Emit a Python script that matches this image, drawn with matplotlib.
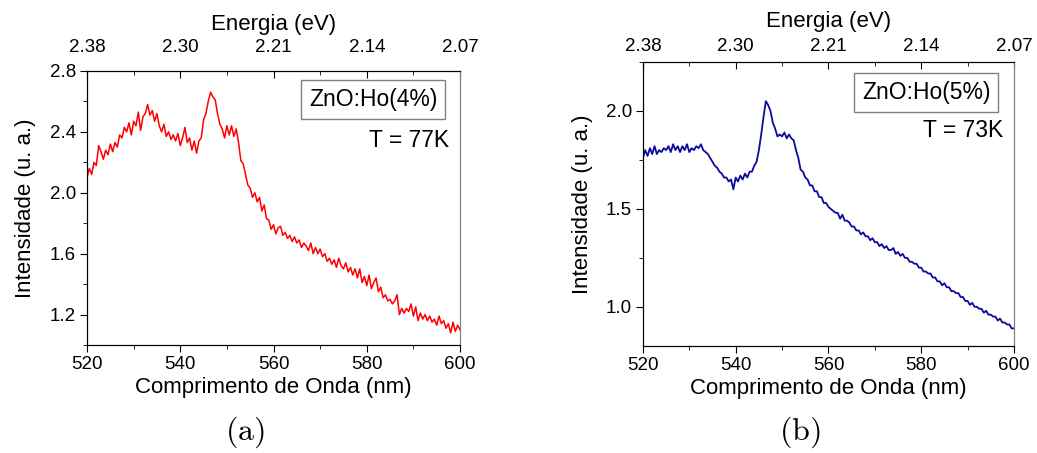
import numpy as np
import matplotlib
matplotlib.use("Agg")
import matplotlib.pyplot as plt
from matplotlib.ticker import MultipleLocator

plt.rcParams['font.family'] = ['Liberation Sans', 'DejaVu Sans']
plt.rcParams['mathtext.fontset'] = 'cm'

# wavelength grid (nm), 0.5 nm step
wl = np.arange(520, 600.25, 0.5)

# ZnO:Ho(4%), T = 77K
int_a = [
    2.10, 2.16, 2.12, 2.20, 2.18, 2.31, 2.27, 2.22, 2.28, 2.25,
    2.32, 2.27, 2.33, 2.30, 2.38, 2.36, 2.43, 2.40, 2.46, 2.38,
    2.47, 2.44, 2.53, 2.41, 2.50, 2.52, 2.58, 2.51, 2.54, 2.47,
    2.52, 2.44, 2.40, 2.45, 2.37, 2.40, 2.35, 2.38, 2.34, 2.39,
    2.31, 2.36, 2.43, 2.33, 2.36, 2.28, 2.34, 2.26, 2.34, 2.36,
    2.48, 2.52, 2.60, 2.66, 2.63, 2.61, 2.52, 2.45, 2.42, 2.36,
    2.44, 2.38, 2.44, 2.37, 2.42, 2.33, 2.21, 2.19, 2.12, 2.05,
    2.03, 1.97, 2.00, 1.94, 1.97, 1.88, 1.92, 1.83, 1.82, 1.76,
    1.79, 1.73, 1.77, 1.78, 1.72, 1.74, 1.70, 1.72, 1.68, 1.71,
    1.67, 1.69, 1.64, 1.67, 1.65, 1.62, 1.67, 1.60, 1.64, 1.60,
    1.63, 1.58, 1.60, 1.55, 1.57, 1.53, 1.56, 1.51, 1.57, 1.52,
    1.50, 1.54, 1.48, 1.51, 1.46, 1.50, 1.44, 1.50, 1.41, 1.45,
    1.39, 1.46, 1.37, 1.41, 1.44, 1.35, 1.38, 1.31, 1.33, 1.29,
    1.30, 1.27, 1.29, 1.33, 1.20, 1.24, 1.21, 1.24, 1.22, 1.27,
    1.19, 1.25, 1.16, 1.21, 1.17, 1.20, 1.16, 1.19, 1.15, 1.17,
    1.13, 1.19, 1.14, 1.16, 1.11, 1.14, 1.08, 1.15, 1.09, 1.13,
    1.10,
]

# ZnO:Ho(5%), T = 73K
int_b = [
    1.76, 1.80, 1.77, 1.81, 1.78, 1.82, 1.78, 1.80, 1.79, 1.81,
    1.80, 1.82, 1.79, 1.83, 1.80, 1.82, 1.79, 1.82, 1.80, 1.83,
    1.79, 1.81, 1.80, 1.82, 1.81, 1.83, 1.80, 1.79, 1.78, 1.76,
    1.74, 1.72, 1.71, 1.69, 1.68, 1.66, 1.66, 1.64, 1.65, 1.60,
    1.66, 1.64, 1.67, 1.65, 1.68, 1.66, 1.69, 1.69, 1.72, 1.74,
    1.80, 1.88, 1.97, 2.05, 2.03, 2.00, 1.94, 1.91, 1.87, 1.88,
    1.87, 1.89, 1.86, 1.88, 1.86, 1.85, 1.80, 1.76, 1.70, 1.69,
    1.66, 1.65, 1.62, 1.62, 1.59, 1.59, 1.56, 1.56, 1.53, 1.53,
    1.51, 1.50, 1.49, 1.48, 1.48, 1.45, 1.47, 1.44, 1.44, 1.43,
    1.41, 1.41, 1.39, 1.39, 1.37, 1.38, 1.36, 1.36, 1.34, 1.35,
    1.33, 1.33, 1.31, 1.32, 1.30, 1.31, 1.29, 1.29, 1.30, 1.27,
    1.28, 1.26, 1.27, 1.25, 1.25, 1.23, 1.23, 1.22, 1.22, 1.20,
    1.20, 1.18, 1.18, 1.17, 1.17, 1.15, 1.15, 1.13, 1.13, 1.11,
    1.12, 1.10, 1.10, 1.08, 1.08, 1.07, 1.07, 1.05, 1.05, 1.03,
    1.03, 1.01, 1.02, 1.00, 1.00, 0.99, 0.99, 0.97, 0.98, 0.96,
    0.96, 0.95, 0.95, 0.93, 0.94, 0.92, 0.92, 0.91, 0.91, 0.89,
    0.89,
]

wl_ticks = [520, 540, 560, 580, 600]
ev_labels = ["2.38", "2.30", "2.21", "2.14", "2.07"]

fig = plt.figure(figsize=(10.37, 4.53), dpi=100)


def panel(rect, y, color, lw, ylim, ymaj, ymin, sample, temp, pos, toppad, ylpad, elpad):
    ax = fig.add_axes(rect)
    ax.plot(wl, y, color=color, lw=lw)
    ax.set_xlim(520, 600)
    ax.set_ylim(*ylim)
    ax.set_xticks(wl_ticks)
    ax.xaxis.set_minor_locator(MultipleLocator(10))
    ax.yaxis.set_major_locator(MultipleLocator(ymaj))
    ax.yaxis.set_minor_locator(MultipleLocator(ymin))
    ax.tick_params(which='both', direction='out', top=False, right=False,
                   labelsize=13.5, pad=3)
    ax.tick_params(which='major', length=5)
    ax.tick_params(which='minor', length=3)
    ax.spines['right'].set_color('#808080')
    ax.set_xlabel("Comprimento de Onda (nm)", fontsize=16, labelpad=3)
    ax.set_ylabel("Intensidade (u. a.)", fontsize=16, labelpad=ylpad)

    top = ax.twiny()
    top.set_xlim(520, 600)
    top.set_xticks(wl_ticks)
    top.set_xticklabels(ev_labels)
    top.xaxis.set_minor_locator(MultipleLocator(10))
    top.tick_params(which='both', direction='in', labelsize=13.5, pad=toppad)
    top.tick_params(which='major', length=5)
    top.tick_params(which='minor', length=3)
    top.spines['right'].set_color('#808080')
    top.set_xlabel("Energia (eV)", fontsize=16, labelpad=elpad)

    ax.text(pos[0], pos[1], sample, transform=ax.transAxes, fontsize=16.5,
            ha='center', va='center',
            bbox=dict(boxstyle='square,pad=0.35', fc='white', ec='#808080', lw=1))
    ax.text(0.97, pos[2], temp, transform=ax.transAxes, fontsize=16.5,
            ha='right', va='center')
    return ax


panel([0.0839, 0.2384, 0.3597, 0.6049], int_a, '#ff0000', 1.1, (1.0, 2.8), 0.4, 0.2,
      "ZnO:Ho(4%)", "T = 77K", (0.767, 0.895, 0.748), 11, 10, 6)
panel([0.620, 0.2362, 0.3578, 0.627], int_b, '#0a0a9e', 1.3, (0.8, 2.25), 0.5, 0.25,
      "ZnO:Ho(5%)", "T = 73K", (0.763, 0.894, 0.76), 5, 9, 8)

fig.text(245 / 1037, 1 - 432 / 453, r"$\mathrm{(a)}$", fontsize=23,
         ha='center', va='center')
fig.text(800 / 1037, 1 - 432 / 453, r"$\mathrm{(b)}$", fontsize=23,
         ha='center', va='center')

fig.savefig("out.png", dpi=100)
